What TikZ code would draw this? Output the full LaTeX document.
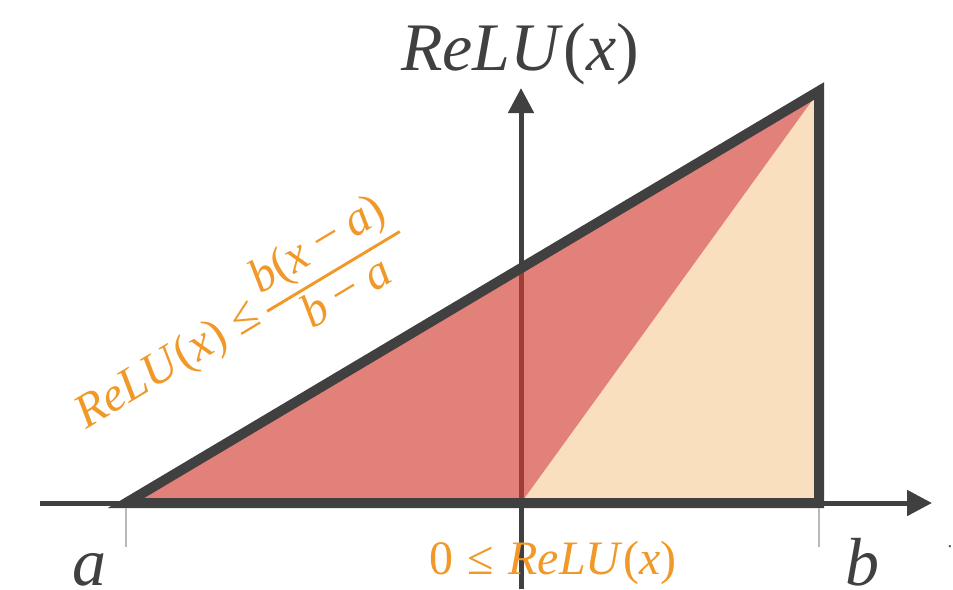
\documentclass[tikz,border=0pt]{standalone}
\usepackage{fontspec}
\setmainfont{Liberation Serif}
\usetikzlibrary{arrows.meta}
\definecolor{dk}{RGB}{64,64,64}
\definecolor{redf}{RGB}{210,60,50}
\definecolor{peachf}{RGB}{240,150,40}
\definecolor{org}{RGB}{240,152,40}
\definecolor{tickc}{RGB}{185,185,185}
\tikzset{
  axisline/.style={draw=dk,line width=3.75pt,-{Triangle[length=18.75pt,width=18.75pt]}},
  outline/.style={draw=dk,line width=7.5pt,line join=miter},
  tickline/.style={draw=tickc,line width=1.5pt},
  bigtxt/.style={text=dk,inner sep=0pt,font=\fontsize{51}{60}\selectfont},
  orgtxt/.style={text=org,inner sep=0pt,font=\fontsize{36}{42}\selectfont},
}
\begin{document}
\begin{tikzpicture}[x=0.75pt,y=-0.75pt]
\useasboundingbox (0,0) rectangle (953,589);
\coordinate (A) at (126,503);
\coordinate (T) at (819,91);
\coordinate (B) at (819,503);
\coordinate (O) at (521,503);
\coordinate (xs) at (40,503);
\coordinate (xe) at (932,503);
\coordinate (ys) at (521,589);
\coordinate (ye) at (521,88);
% axes
\draw[axisline] (ys) -- (ye);
\draw[axisline] (xs) -- (xe);
% fills
\fill[redf,fill opacity=0.65] (A) -- (T) -- (O) -- cycle;
\fill[peachf,fill opacity=0.3] (O) -- (T) -- (B) -- cycle;
% outline
\draw[outline] (A) -- (T) -- (B) -- cycle;
% ticks
\coordinate (ta1) at (126,508);
\coordinate (ta2) at (126,547);
\coordinate (tb1) at (819,508);
\coordinate (tb2) at (819,547);
\draw[tickline] (ta1) -- (ta2);
\draw[tickline] (tb1) -- (tb2);
% labels
\node[bigtxt,anchor=base] (ylab) at (520,70) {\textit{ReLU}(\textit{x})};
\node[bigtxt,anchor=base] (alab) at (89,585) {\textit{a}};
\node[bigtxt,anchor=base] (blab) at (862,585) {\textit{b}};
\node[text=dk,inner sep=0pt,font=\fontsize{14}{16}\selectfont,anchor=base] (dot) at (950,547) {.};
\node[orgtxt,anchor=base] (lower) at (553,574) {0\hspace{0.3em}≤\hspace{0.3em}\textit{ReLU}(\textit{x})};
\node[orgtxt,rotate=31,anchor=center] (upper) at (241,327)
  {\textit{ReLU}(\textit{x})\hspace{0.25em}≤\hspace{0.2em}{\renewcommand\arraystretch{0.95}\setlength\arrayrulewidth{2.2pt}%
   \begin{tabular}{@{\hspace{2pt}}c@{\hspace{2pt}}}\textit{b}(\textit{x}\hspace{0.22em}−\hspace{0.22em}\textit{a})\\\hline \textit{b}\hspace{0.22em}−\hspace{0.22em}\textit{a}\end{tabular}}};
\end{tikzpicture}
\end{document}
